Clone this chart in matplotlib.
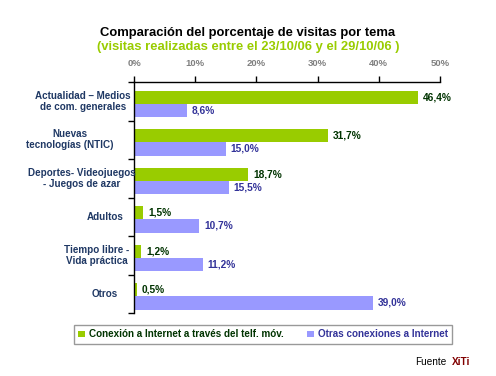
import numpy as np
import matplotlib
matplotlib.use('Agg')
import matplotlib.pyplot as plt

plt.rcParams['font.family'] = ['Liberation Sans', 'DejaVu Sans']

categorias = ['Actualidad – Medios\nde com. generales',
              'Nuevas\ntecnologías (NTIC)',
              'Deportes- Videojuegos\n- Juegos de azar',
              'Adultos',
              'Tiempo libre -\nVida práctica',
              'Otros']
movil = [46.4, 31.7, 18.7, 1.5, 1.2, 0.5]
otras = [8.6, 15.0, 15.5, 10.7, 11.2, 39.0]
serie_movil = 'Conexión a Internet a través del telf. móv.'
serie_otras = 'Otras conexiones a Internet'
x_ticks = [0, 10, 20, 30, 40, 50]

verde = '#99CC00'
lila = '#9999FF'

fig = plt.figure(figsize=(4.96, 3.76), dpi=100)
ax = fig.add_axes([134 / 496, 1 - 313 / 376, 306 / 496, 231 / 376])

y = np.arange(len(categorias))
h = 0.34
b1 = ax.barh(y - 0.1, movil, height=h, color=verde, label=serie_movil)
b2 = ax.barh(y + 0.24, otras, height=h, color=lila, label=serie_otras)

for v, yy in zip(movil, y - 0.1):
    ax.annotate(f'{v:.1f}%'.replace('.', ','), (v, yy), xytext=(3.5, 0),
                textcoords='offset points', va='center', ha='left',
                fontsize=7.3, fontweight='bold', color='#003300')
for v, yy in zip(otras, y + 0.24):
    ax.annotate(f'{v:.1f}%'.replace('.', ','), (v, yy), xytext=(3.5, 0),
                textcoords='offset points', va='center', ha='left',
                fontsize=7.3, fontweight='bold', color='#333399')

ax.set_xlim(0, 50)
ax.set_ylim(5.5, -0.5)
ax.xaxis.tick_top()
ax.set_xticks(x_ticks)
ax.set_xticklabels([f'{t}%' for t in x_ticks], fontsize=6.8, fontweight='bold', color='#808080')
ax.tick_params(axis='x', length=4, width=1, pad=6, direction='out')
ax.set_yticks(np.arange(-0.5, 6, 1))
ax.set_yticklabels([])
ax.tick_params(axis='y', length=4, width=1, direction='out')
for s in ['right', 'bottom']:
    ax.spines[s].set_visible(False)
for s in ['top', 'left']:
    ax.spines[s].set_linewidth(1)

# etiquetas de categoría (centradas como en Excel)
label_x = [83, 70, 82, 105, 97, 105]
for cx, cat, yy in zip(label_x, categorias, y):
    ax.text((cx - 134) / 306, yy, cat, transform=ax.get_yaxis_transform(),
            ha='center', va='center', multialignment='center', fontsize=7.1,
            fontweight='bold', color='#1F3864', linespacing=1.1)

fig.text(0.5, 1 - 33 / 376, 'Comparación del porcentaje de visitas por tema',
         ha='center', va='center', fontsize=9.4, fontweight='bold', color='black')
fig.text(0.5, 1 - 47 / 376, '(visitas realizadas entre el 23/10/06 y el 29/10/06 )',
         ha='center', va='center', fontsize=9.4, fontweight='bold', color=verde)

leg = fig.legend(handles=[b1, b2], loc='upper left', bbox_to_anchor=(74 / 496, 1 - 325 / 376),
                 ncol=2, frameon=True, fancybox=False, handlelength=0.7,
                 handleheight=0.7, handletextpad=0.4, columnspacing=2.3, borderpad=0.45,
                 borderaxespad=0, prop={'weight': 'bold', 'size': 7.1})
leg.get_frame().set_edgecolor('#808080')
leg.get_frame().set_linewidth(1)
leg.get_texts()[0].set_color('#003300')
leg.get_texts()[1].set_color('#333399')

fig.text(446 / 496, 1 - 362 / 376, 'Fuente', ha='right', va='center', fontsize=7.2, color='black')
fig.text(452 / 496, 1 - 362 / 376, 'XiTi', ha='left', va='center', fontsize=7.2,
         fontweight='bold', color='#800000')

fig.savefig('out.png', dpi=100)
